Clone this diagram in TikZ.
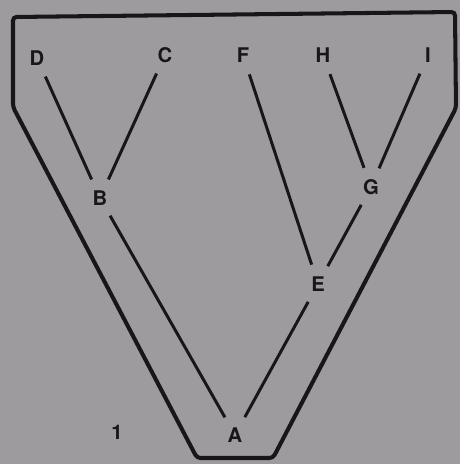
\documentclass[tikz,border=0pt]{standalone}
\usepackage{fontspec}
\setsansfont{TeX Gyre Heros}
\usepackage{tikz}
\usetikzlibrary{arrows.meta, positioning, calc}
\definecolor{paper}{RGB}{158, 155, 158}
\definecolor{ink}{RGB}{24, 22, 24}

\begin{document}
\begin{tikzpicture}[x=0.02cm, y=-0.02cm,
  leaf/.style={circle, minimum size=0.8cm, inner sep=0pt, text=ink,
    font=\sffamily\bfseries\fontsize{11.5}{13}\selectfont},
  branch/.style={line width=1.7pt, ink}]
  \fill[paper] (0,0) rectangle (460,464);
  \useasboundingbox (0,0) rectangle (460,464);
  % outline
  \draw[line width=2.3pt, ink, rounded corners=2pt]
    (13,17) -- (455,12) -- (456,108) -- (273,458) -- (197,458) -- (13,107) -- cycle;
  % labels
  \node[leaf] (D) at (37,58) {D};
  \node[leaf] (C) at (165,55) {C};
  \node[leaf] (F) at (243,55) {F};
  \node[leaf] (H) at (323,55) {H};
  \node[leaf] (I) at (428,55) {I};
  \node[leaf] (B) at (100,198) {B};
  \node[leaf] (G) at (371,187) {G};
  \node[leaf] (E) at (318,284) {E};
  \node[leaf] (A) at (235,435) {A};
  \node[leaf] (one) at (117,432) {1};
  % branches
  \draw[branch] (D) -- (B);
  \draw[branch] (C) -- (B);
  \draw[branch] (B) -- (A);
  \draw[branch] (H) -- (G);
  \draw[branch] (I) -- (G);
  \draw[branch] (G) -- (E);
  \draw[branch] (F) -- (E);
  \draw[branch] (E) -- (A);
\end{tikzpicture}
\end{document}
